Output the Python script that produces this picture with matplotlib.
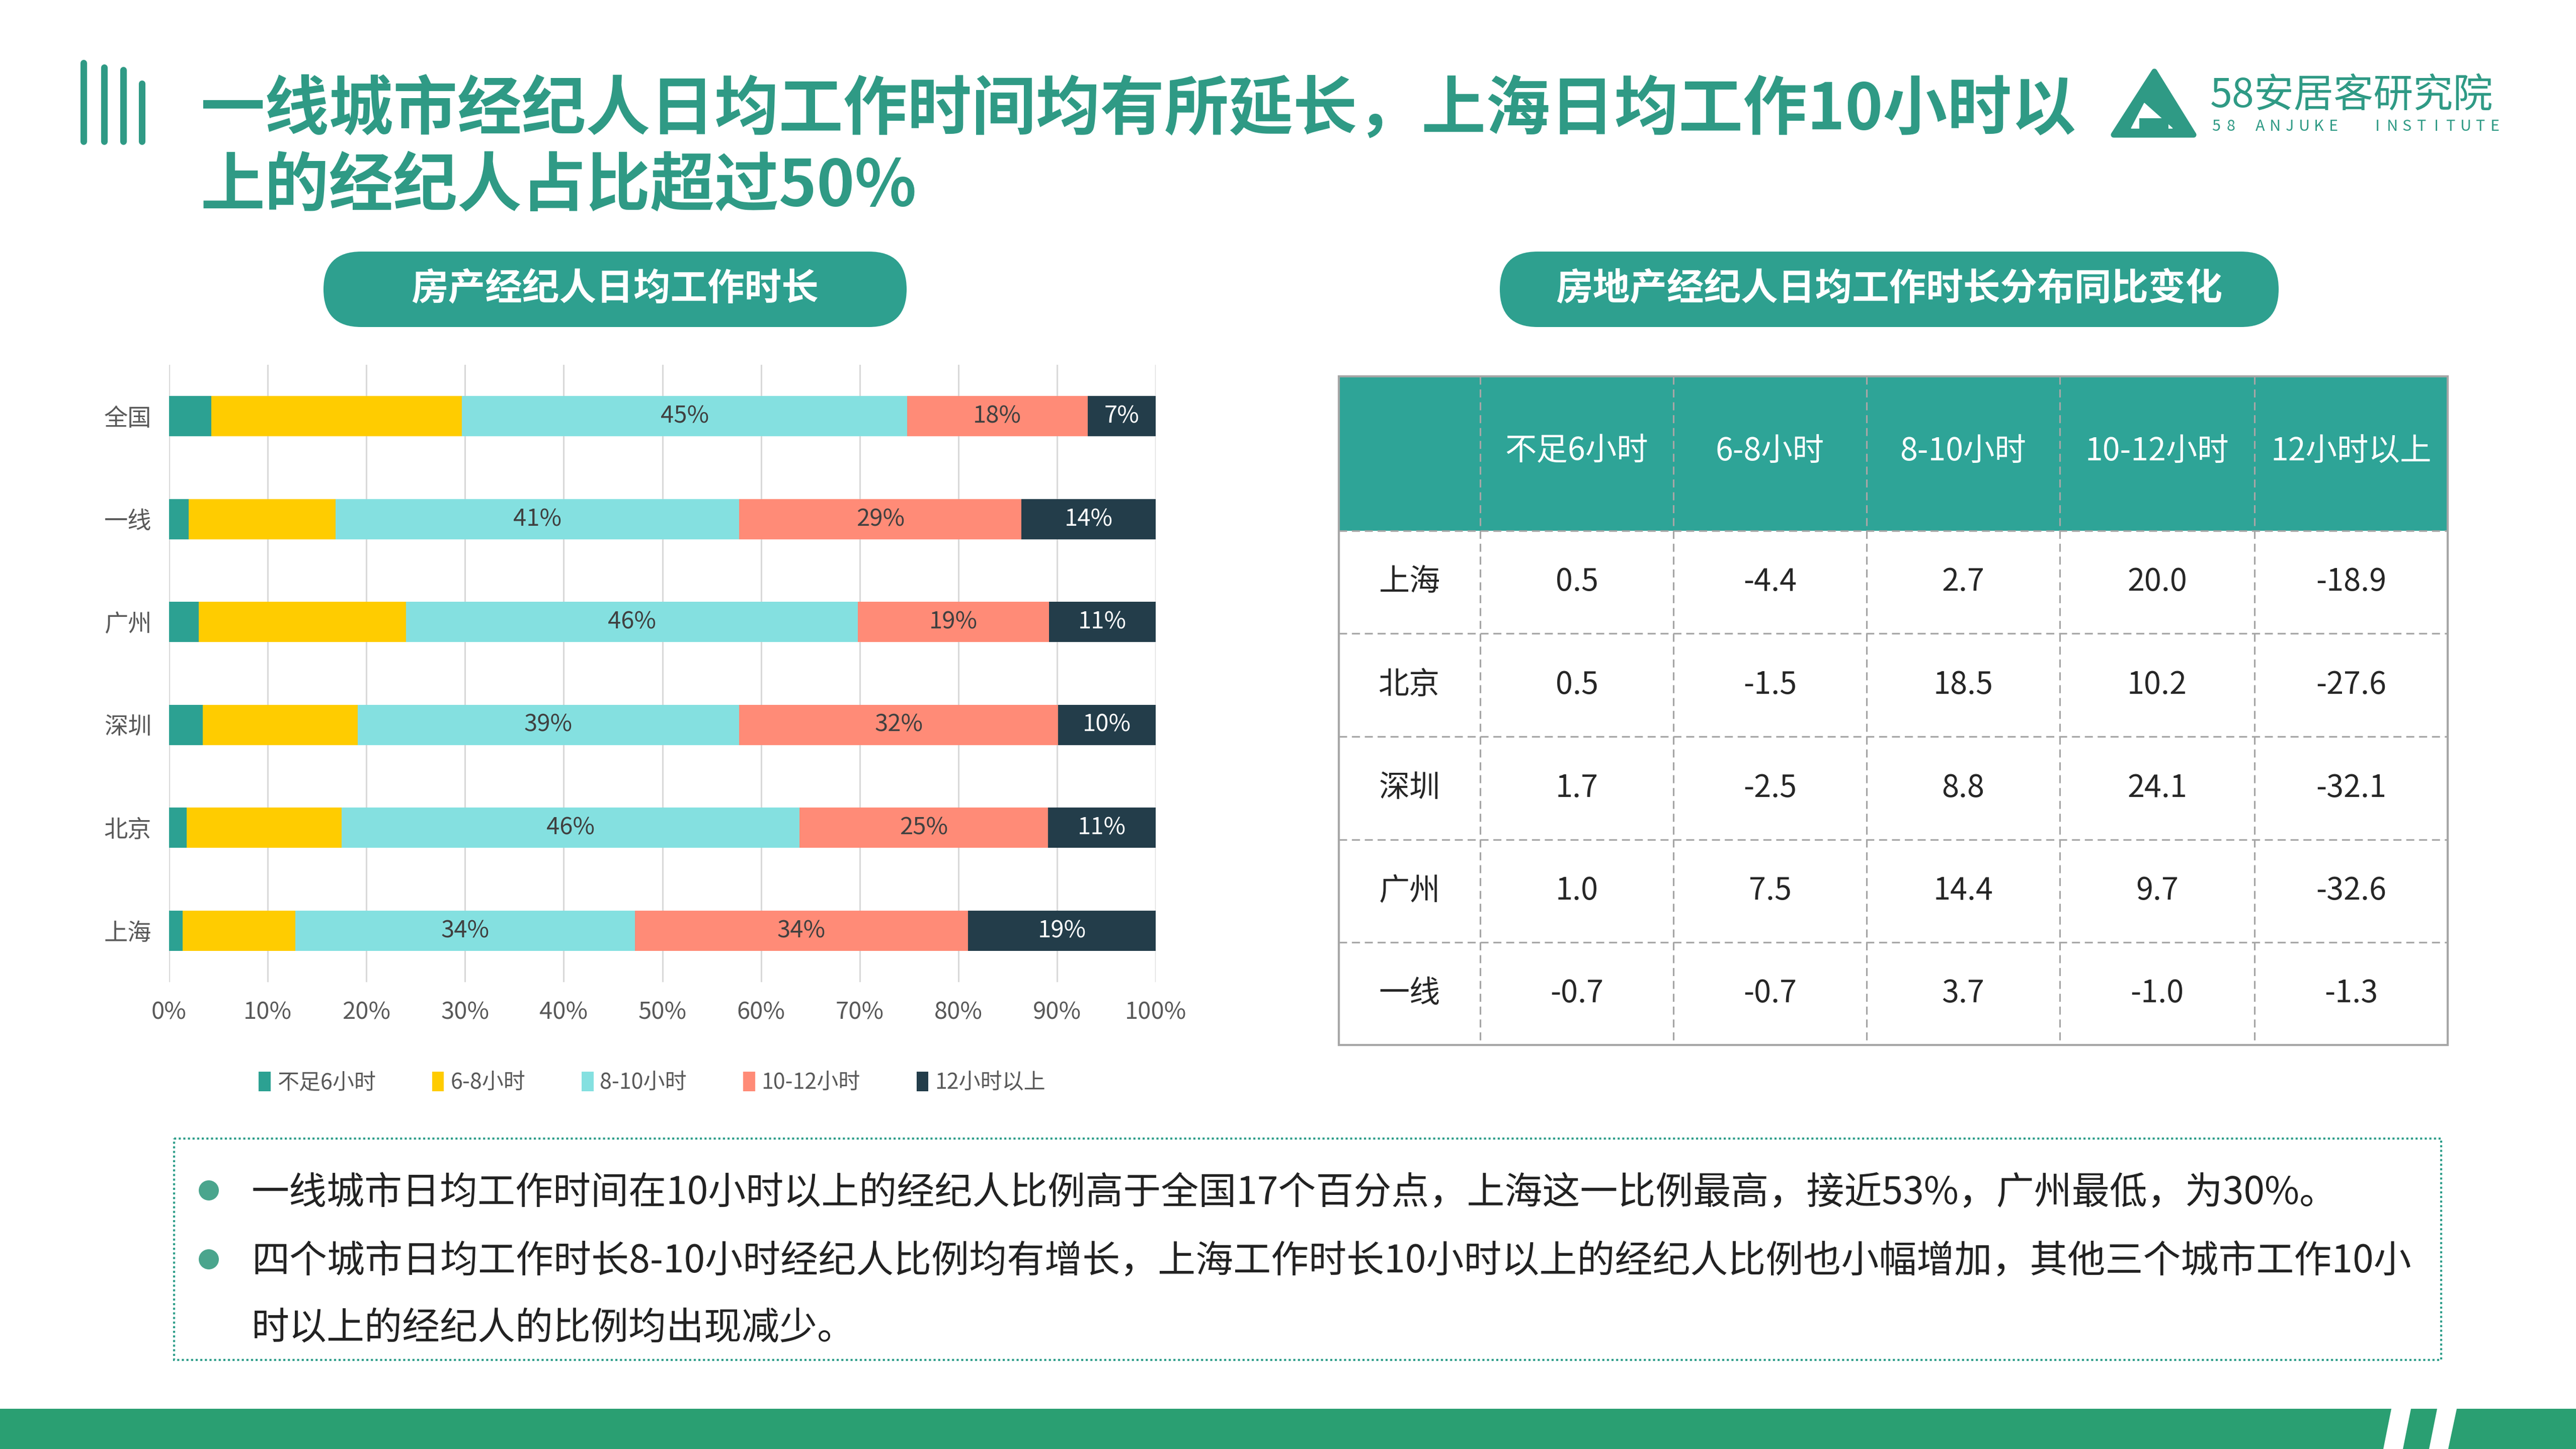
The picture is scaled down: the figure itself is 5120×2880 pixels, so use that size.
import matplotlib
matplotlib.use("Agg")
import matplotlib.pyplot as plt
import numpy as np
from matplotlib.patches import Rectangle, FancyBboxPatch, Polygon, Circle, Patch

plt.rcParams["font.family"] = ["Noto Sans CJK SC", "DejaVu Sans"]

W, H = 5120, 2880

# Left chart: share of agents by daily working hours (%)
cities = ["全国", "一线", "广州", "深圳", "北京", "上海"]
groups = ["不足6小时", "6-8小时", "8-10小时", "10-12小时", "12小时以上"]
share_lt6 = [4.3, 2.0, 3.0, 3.4, 1.8, 1.4]
share_6_8 = [25.4, 14.9, 21.0, 15.7, 15.7, 11.4]
share_8_10 = [45.1, 40.9, 45.8, 38.7, 46.4, 34.4]
share_10_12 = [18.3, 28.6, 19.4, 32.3, 25.2, 33.8]
share_gt12 = [6.9, 13.6, 10.8, 9.9, 10.9, 19.0]
show_label = [False, False, True, True, True]

# Right table: year-on-year change (percentage points)
table_cities = ["上海", "北京", "深圳", "广州", "一线"]
chg_lt6 = [0.5, 0.5, 1.7, 1.0, -0.7]
chg_6_8 = [-4.4, -1.5, -2.5, 7.5, -0.7]
chg_8_10 = [2.7, 18.5, 8.8, 14.4, 3.7]
chg_10_12 = [20.0, 10.2, 24.1, 9.7, -1.0]
chg_gt12 = [-18.9, -27.6, -32.1, -32.6, -1.3]

title_1 = "一线城市经纪人日均工作时间均有所延长，上海日均工作10小时以"
title_2 = "上的经纪人占比超过50%"
notes = [
    "一线城市日均工作时间在10小时以上的经纪人比例高于全国17个百分点，上海这一比例最高，接近53%，广州最低，为30%。",
    "四个城市日均工作时长8-10小时经纪人比例均有增长，上海工作时长10小时以上的经纪人比例也小幅增加，其他三个城市工作10小",
    "时以上的经纪人的比例均出现减少。",
]

seg_colors = ["#2ca192", "#ffcc00", "#84e0e0", "#ff8b77", "#233d4a"]
teal = "#2f9a85"
pill_c = "#2ea08f"
head_c = "#2ea497"
grid_c = "#a6a6a6"

fig = plt.figure(figsize=(W / 100, H / 100), dpi=100)
fig.patch.set_facecolor("white")

# background layer in pixel coordinates
bg = fig.add_axes([0, 0, 1, 1])
bg.set_xlim(0, W)
bg.set_ylim(H, 0)
bg.axis("off")

# title icon
for x, y0 in [(166, 125), (207, 134), (245, 139), (282, 166)]:
    bg.plot([x, x], [y0, 281], color=teal, lw=9.4, solid_capstyle="round")

bg.text(398, 220, title_1, fontsize=92, fontweight="bold", color=teal, va="center", ha="left")
bg.text(398, 372, title_2, fontsize=92, fontweight="bold", color=teal, va="center", ha="left")

# logo
bg.add_patch(Polygon([(4282, 142), (4201, 268), (4360, 268)], closed=True,
                     facecolor=teal, edgecolor=teal, lw=8, joinstyle="round"))
bg.add_patch(Polygon([(4262, 205), (4236, 255), (4318, 255)], closed=True,
                     facecolor="white", edgecolor="white", lw=1))
bg.add_patch(Rectangle((4252, 235), 58, 22, facecolor=teal, edgecolor="none"))
bg.text(4393, 190, "58安居客研究院", fontsize=57, color=teal, va="center", ha="left")
eng = "58 ANJUKE  INSTITUTE"
step = (4959 - 4405) / (len(eng) - 1)
for i, ch in enumerate(eng):
    bg.text(4405 + i * step, 252, ch, fontsize=22, color=teal, va="center", ha="center")

# section pills
for x0, w, label in [(643, 1159, "房产经纪人日均工作时长"),
                     (2981, 1548, "房地产经纪人日均工作时长分布同比变化")]:
    bg.add_patch(FancyBboxPatch((x0, 500), w, 150,
                                boxstyle="round,pad=0,rounding_size=75",
                                facecolor=pill_c, edgecolor="none"))
    bg.text(x0 + w / 2, 575, label, fontsize=53, fontweight="bold", color="white",
            va="center", ha="center")

# ---- stacked bar chart ----
ax = fig.add_axes([336 / W, 1 - 1952 / H, (2297 - 336) / W, (1952 - 725) / H])
series = [share_lt6, share_6_8, share_8_10, share_10_12, share_gt12]
ypos = np.arange(len(cities))
left = np.zeros(len(cities))
for k, vals in enumerate(series):
    vals = np.array(vals)
    ax.barh(ypos, vals, left=left, height=0.39, color=seg_colors[k], label=groups[k], zorder=3)
    if show_label[k]:
        for yi, (l, v) in enumerate(zip(left, vals)):
            ax.text(l + v / 2, yi, f"{int(v + 0.5)}%", ha="center", va="center",
                    fontsize=34, color="white" if k == 4 else "#404040", zorder=4)
    left += vals

ax.set_xlim(0, 100)
ax.set_ylim(len(cities) - 0.5, -0.5)
ax.set_yticks(ypos)
ax.set_yticklabels(cities)
ax.set_xticks(np.arange(0, 101, 10))
ax.set_xticklabels([f"{t}%" for t in range(0, 101, 10)])
ax.grid(axis="x", color="#d9d9d9", linewidth=2.2, zorder=0)
ax.set_axisbelow(True)
for s in ax.spines.values():
    s.set_visible(False)
ax.tick_params(axis="x", length=0, labelsize=34, colors="#595959", pad=26)
ax.tick_params(axis="y", length=0, labelsize=34, colors="#595959", pad=25)
ax.patch.set_alpha(0)

handles = [Patch(facecolor=c, edgecolor="none") for c in seg_colors]
ax.legend(handles, groups, loc="center", bbox_to_anchor=(1296 / W, 1 - 2152 / H),
          bbox_transform=fig.transFigure, ncol=5, frameon=False, fontsize=31,
          handlelength=0.55, handleheight=1.0, handletextpad=0.3, columnspacing=2.6,
          labelcolor="#595959")

# ---- change table ----
col_edges = [2661, 2942, 3326, 3710, 4094, 4481, 4865]
row_edges = [748, 1055, 1259, 1464, 1669, 1873, 2077]
bg.add_patch(Rectangle((col_edges[0], row_edges[0]), col_edges[-1] - col_edges[0],
                       row_edges[1] - row_edges[0], facecolor=head_c, edgecolor="none"))
dash = (0, (5, 3))
for y in row_edges[1:-1]:
    bg.plot([col_edges[0], col_edges[-1]], [y, y], color=grid_c, lw=2.3, linestyle=dash)
for x in col_edges[1:-1]:
    bg.plot([x, x], [row_edges[0], row_edges[-1]], color=grid_c, lw=2.3, linestyle=dash)
bg.add_patch(Rectangle((col_edges[0], row_edges[0]), col_edges[-1] - col_edges[0],
                       row_edges[-1] - row_edges[0], facecolor="none", edgecolor=grid_c, lw=3))

col_mid = [(a + b) / 2 for a, b in zip(col_edges[:-1], col_edges[1:])]
row_mid = [(a + b) / 2 for a, b in zip(row_edges[:-1], row_edges[1:])]
for j, g in enumerate(groups):
    bg.text(col_mid[j + 1], row_mid[0] - 5, g, fontsize=45, color="white", ha="center", va="center")
table_cols = [chg_lt6, chg_6_8, chg_8_10, chg_10_12, chg_gt12]
for i, c in enumerate(table_cities):
    bg.text(col_mid[0], row_mid[i + 1], c, fontsize=44, color="#262626", ha="center", va="center")
    for j, col in enumerate(table_cols):
        bg.text(col_mid[j + 1], row_mid[i + 1], f"{col[i]:.1f}", fontsize=44, color="#262626",
                ha="center", va="center")

# ---- notes box ----
bg.add_patch(Rectangle((346, 2263), 4506, 440, facecolor="none", edgecolor="#2e9e8a",
                       lw=3, linestyle=(0, (1, 1.2))))
for y in [2366, 2503]:
    bg.add_patch(Circle((415, y), 20, facecolor="#4aa58d", edgecolor="none"))
for y, line in zip([2372, 2508, 2640], notes):
    bg.text(500, y, line, fontsize=54, color="#222222", ha="left", va="center")

# bottom band
bg.add_patch(Rectangle((0, 2800), W, 80, facecolor="#2a9f72", edgecolor="none"))
bg.add_patch(Polygon([(4753, 2800), (4792, 2800), (4776, 2880), (4737, 2880)], facecolor="white", edgecolor="none"))
bg.add_patch(Polygon([(4844, 2800), (4883, 2800), (4866, 2880), (4828, 2880)], facecolor="white", edgecolor="none"))

fig.savefig("out.png", dpi=100)
